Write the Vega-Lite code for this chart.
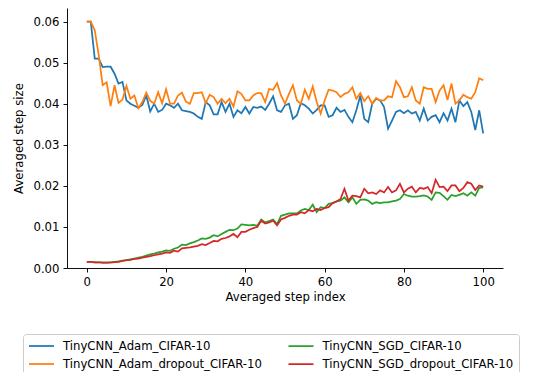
{
  "$schema": "https://vega.github.io/schema/vega-lite/v6.json",
  "width": 436,
  "height": 260,
  "autosize": {"type": "none"},
  "padding": {"left": 67, "top": 8, "right": 34, "bottom": 104},
  "background": "white",
  "config": {
    "view": {"stroke": null},
    "font": "DejaVu Sans",
    "axis": {
      "labelFont": "DejaVu Sans", "titleFont": "DejaVu Sans",
      "domainColor": "black", "tickColor": "black", "labelColor": "black", "titleColor": "black",
      "labelFontSize": 11.7, "titleFontSize": 11.7, "titleFontWeight": "normal",
      "tickSize": 4, "labelPadding": 4, "grid": false, "domainWidth": 0.94, "tickWidth": 0.94
    },
    "legend": {"labelFont": "DejaVu Sans"}
  },
  "data": {
    "values": [
      {"x":0,"TinyCNN_Adam_CIFAR-10":0.0600,"TinyCNN_Adam_dropout_CIFAR-10":0.0600,"TinyCNN_SGD_CIFAR-10":0.0015,"TinyCNN_SGD_dropout_CIFAR-10":0.0015},
      {"x":1,"TinyCNN_Adam_CIFAR-10":0.0600,"TinyCNN_Adam_dropout_CIFAR-10":0.0600,"TinyCNN_SGD_CIFAR-10":0.0015,"TinyCNN_SGD_dropout_CIFAR-10":0.0015},
      {"x":2,"TinyCNN_Adam_CIFAR-10":0.0510,"TinyCNN_Adam_dropout_CIFAR-10":0.0579,"TinyCNN_SGD_CIFAR-10":0.0014,"TinyCNN_SGD_dropout_CIFAR-10":0.0014},
      {"x":3,"TinyCNN_Adam_CIFAR-10":0.0510,"TinyCNN_Adam_dropout_CIFAR-10":0.0518,"TinyCNN_SGD_CIFAR-10":0.0014,"TinyCNN_SGD_dropout_CIFAR-10":0.0014},
      {"x":4,"TinyCNN_Adam_CIFAR-10":0.0489,"TinyCNN_Adam_dropout_CIFAR-10":0.0445,"TinyCNN_SGD_CIFAR-10":0.0013,"TinyCNN_SGD_dropout_CIFAR-10":0.0013},
      {"x":5,"TinyCNN_Adam_CIFAR-10":0.0490,"TinyCNN_Adam_dropout_CIFAR-10":0.0452,"TinyCNN_SGD_CIFAR-10":0.0013,"TinyCNN_SGD_dropout_CIFAR-10":0.0013},
      {"x":6,"TinyCNN_Adam_CIFAR-10":0.0490,"TinyCNN_Adam_dropout_CIFAR-10":0.0394,"TinyCNN_SGD_CIFAR-10":0.0014,"TinyCNN_SGD_dropout_CIFAR-10":0.0013},
      {"x":7,"TinyCNN_Adam_CIFAR-10":0.0473,"TinyCNN_Adam_dropout_CIFAR-10":0.0445,"TinyCNN_SGD_CIFAR-10":0.0015,"TinyCNN_SGD_dropout_CIFAR-10":0.0014},
      {"x":8,"TinyCNN_Adam_CIFAR-10":0.0449,"TinyCNN_Adam_dropout_CIFAR-10":0.0402,"TinyCNN_SGD_CIFAR-10":0.0016,"TinyCNN_SGD_dropout_CIFAR-10":0.0015},
      {"x":9,"TinyCNN_Adam_CIFAR-10":0.0453,"TinyCNN_Adam_dropout_CIFAR-10":0.0410,"TinyCNN_SGD_CIFAR-10":0.0018,"TinyCNN_SGD_dropout_CIFAR-10":0.0017},
      {"x":10,"TinyCNN_Adam_CIFAR-10":0.0408,"TinyCNN_Adam_dropout_CIFAR-10":0.0443,"TinyCNN_SGD_CIFAR-10":0.0019,"TinyCNN_SGD_dropout_CIFAR-10":0.0019},
      {"x":11,"TinyCNN_Adam_CIFAR-10":0.0400,"TinyCNN_Adam_dropout_CIFAR-10":0.0412,"TinyCNN_SGD_CIFAR-10":0.0021,"TinyCNN_SGD_dropout_CIFAR-10":0.0020},
      {"x":12,"TinyCNN_Adam_CIFAR-10":0.0395,"TinyCNN_Adam_dropout_CIFAR-10":0.0420,"TinyCNN_SGD_CIFAR-10":0.0023,"TinyCNN_SGD_dropout_CIFAR-10":0.0022},
      {"x":13,"TinyCNN_Adam_CIFAR-10":0.0390,"TinyCNN_Adam_dropout_CIFAR-10":0.0389,"TinyCNN_SGD_CIFAR-10":0.0025,"TinyCNN_SGD_dropout_CIFAR-10":0.0023},
      {"x":14,"TinyCNN_Adam_CIFAR-10":0.0397,"TinyCNN_Adam_dropout_CIFAR-10":0.0404,"TinyCNN_SGD_CIFAR-10":0.0027,"TinyCNN_SGD_dropout_CIFAR-10":0.0025},
      {"x":15,"TinyCNN_Adam_CIFAR-10":0.0420,"TinyCNN_Adam_dropout_CIFAR-10":0.0427,"TinyCNN_SGD_CIFAR-10":0.0030,"TinyCNN_SGD_dropout_CIFAR-10":0.0027},
      {"x":16,"TinyCNN_Adam_CIFAR-10":0.0381,"TinyCNN_Adam_dropout_CIFAR-10":0.0407,"TinyCNN_SGD_CIFAR-10":0.0033,"TinyCNN_SGD_dropout_CIFAR-10":0.0029},
      {"x":17,"TinyCNN_Adam_CIFAR-10":0.0400,"TinyCNN_Adam_dropout_CIFAR-10":0.0400,"TinyCNN_SGD_CIFAR-10":0.0035,"TinyCNN_SGD_dropout_CIFAR-10":0.0031},
      {"x":18,"TinyCNN_Adam_CIFAR-10":0.0380,"TinyCNN_Adam_dropout_CIFAR-10":0.0428,"TinyCNN_SGD_CIFAR-10":0.0038,"TinyCNN_SGD_dropout_CIFAR-10":0.0033},
      {"x":19,"TinyCNN_Adam_CIFAR-10":0.0385,"TinyCNN_Adam_dropout_CIFAR-10":0.0401,"TinyCNN_SGD_CIFAR-10":0.0040,"TinyCNN_SGD_dropout_CIFAR-10":0.0035},
      {"x":20,"TinyCNN_Adam_CIFAR-10":0.0400,"TinyCNN_Adam_dropout_CIFAR-10":0.0435,"TinyCNN_SGD_CIFAR-10":0.0043,"TinyCNN_SGD_dropout_CIFAR-10":0.0038},
      {"x":21,"TinyCNN_Adam_CIFAR-10":0.0396,"TinyCNN_Adam_dropout_CIFAR-10":0.0400,"TinyCNN_SGD_CIFAR-10":0.0042,"TinyCNN_SGD_dropout_CIFAR-10":0.0037},
      {"x":22,"TinyCNN_Adam_CIFAR-10":0.0390,"TinyCNN_Adam_dropout_CIFAR-10":0.0400,"TinyCNN_SGD_CIFAR-10":0.0047,"TinyCNN_SGD_dropout_CIFAR-10":0.0042},
      {"x":23,"TinyCNN_Adam_CIFAR-10":0.0400,"TinyCNN_Adam_dropout_CIFAR-10":0.0420,"TinyCNN_SGD_CIFAR-10":0.0050,"TinyCNN_SGD_dropout_CIFAR-10":0.0040},
      {"x":24,"TinyCNN_Adam_CIFAR-10":0.0384,"TinyCNN_Adam_dropout_CIFAR-10":0.0427,"TinyCNN_SGD_CIFAR-10":0.0057,"TinyCNN_SGD_dropout_CIFAR-10":0.0048},
      {"x":25,"TinyCNN_Adam_CIFAR-10":0.0382,"TinyCNN_Adam_dropout_CIFAR-10":0.0405,"TinyCNN_SGD_CIFAR-10":0.0056,"TinyCNN_SGD_dropout_CIFAR-10":0.0049},
      {"x":26,"TinyCNN_Adam_CIFAR-10":0.0380,"TinyCNN_Adam_dropout_CIFAR-10":0.0400,"TinyCNN_SGD_CIFAR-10":0.0060,"TinyCNN_SGD_dropout_CIFAR-10":0.0050},
      {"x":27,"TinyCNN_Adam_CIFAR-10":0.0376,"TinyCNN_Adam_dropout_CIFAR-10":0.0426,"TinyCNN_SGD_CIFAR-10":0.0063,"TinyCNN_SGD_dropout_CIFAR-10":0.0052},
      {"x":28,"TinyCNN_Adam_CIFAR-10":0.0368,"TinyCNN_Adam_dropout_CIFAR-10":0.0426,"TinyCNN_SGD_CIFAR-10":0.0067,"TinyCNN_SGD_dropout_CIFAR-10":0.0054},
      {"x":29,"TinyCNN_Adam_CIFAR-10":0.0363,"TinyCNN_Adam_dropout_CIFAR-10":0.0428,"TinyCNN_SGD_CIFAR-10":0.0072,"TinyCNN_SGD_dropout_CIFAR-10":0.0058},
      {"x":30,"TinyCNN_Adam_CIFAR-10":0.0404,"TinyCNN_Adam_dropout_CIFAR-10":0.0401,"TinyCNN_SGD_CIFAR-10":0.0071,"TinyCNN_SGD_dropout_CIFAR-10":0.0056},
      {"x":31,"TinyCNN_Adam_CIFAR-10":0.0396,"TinyCNN_Adam_dropout_CIFAR-10":0.0422,"TinyCNN_SGD_CIFAR-10":0.0074,"TinyCNN_SGD_dropout_CIFAR-10":0.0061},
      {"x":32,"TinyCNN_Adam_CIFAR-10":0.0374,"TinyCNN_Adam_dropout_CIFAR-10":0.0416,"TinyCNN_SGD_CIFAR-10":0.0080,"TinyCNN_SGD_dropout_CIFAR-10":0.0066},
      {"x":33,"TinyCNN_Adam_CIFAR-10":0.0374,"TinyCNN_Adam_dropout_CIFAR-10":0.0400,"TinyCNN_SGD_CIFAR-10":0.0077,"TinyCNN_SGD_dropout_CIFAR-10":0.0065},
      {"x":34,"TinyCNN_Adam_CIFAR-10":0.0404,"TinyCNN_Adam_dropout_CIFAR-10":0.0412,"TinyCNN_SGD_CIFAR-10":0.0083,"TinyCNN_SGD_dropout_CIFAR-10":0.0071},
      {"x":35,"TinyCNN_Adam_CIFAR-10":0.0380,"TinyCNN_Adam_dropout_CIFAR-10":0.0401,"TinyCNN_SGD_CIFAR-10":0.0088,"TinyCNN_SGD_dropout_CIFAR-10":0.0073},
      {"x":36,"TinyCNN_Adam_CIFAR-10":0.0400,"TinyCNN_Adam_dropout_CIFAR-10":0.0412,"TinyCNN_SGD_CIFAR-10":0.0093,"TinyCNN_SGD_dropout_CIFAR-10":0.0077},
      {"x":37,"TinyCNN_Adam_CIFAR-10":0.0368,"TinyCNN_Adam_dropout_CIFAR-10":0.0393,"TinyCNN_SGD_CIFAR-10":0.0092,"TinyCNN_SGD_dropout_CIFAR-10":0.0083},
      {"x":38,"TinyCNN_Adam_CIFAR-10":0.0384,"TinyCNN_Adam_dropout_CIFAR-10":0.0430,"TinyCNN_SGD_CIFAR-10":0.0096,"TinyCNN_SGD_dropout_CIFAR-10":0.0075},
      {"x":39,"TinyCNN_Adam_CIFAR-10":0.0377,"TinyCNN_Adam_dropout_CIFAR-10":0.0424,"TinyCNN_SGD_CIFAR-10":0.0106,"TinyCNN_SGD_dropout_CIFAR-10":0.0088},
      {"x":40,"TinyCNN_Adam_CIFAR-10":0.0392,"TinyCNN_Adam_dropout_CIFAR-10":0.0408,"TinyCNN_SGD_CIFAR-10":0.0105,"TinyCNN_SGD_dropout_CIFAR-10":0.0088},
      {"x":41,"TinyCNN_Adam_CIFAR-10":0.0376,"TinyCNN_Adam_dropout_CIFAR-10":0.0408,"TinyCNN_SGD_CIFAR-10":0.0104,"TinyCNN_SGD_dropout_CIFAR-10":0.0093},
      {"x":42,"TinyCNN_Adam_CIFAR-10":0.0392,"TinyCNN_Adam_dropout_CIFAR-10":0.0420,"TinyCNN_SGD_CIFAR-10":0.0105,"TinyCNN_SGD_dropout_CIFAR-10":0.0097},
      {"x":43,"TinyCNN_Adam_CIFAR-10":0.0390,"TinyCNN_Adam_dropout_CIFAR-10":0.0426,"TinyCNN_SGD_CIFAR-10":0.0103,"TinyCNN_SGD_dropout_CIFAR-10":0.0100},
      {"x":44,"TinyCNN_Adam_CIFAR-10":0.0393,"TinyCNN_Adam_dropout_CIFAR-10":0.0426,"TinyCNN_SGD_CIFAR-10":0.0118,"TinyCNN_SGD_dropout_CIFAR-10":0.0115},
      {"x":45,"TinyCNN_Adam_CIFAR-10":0.0385,"TinyCNN_Adam_dropout_CIFAR-10":0.0404,"TinyCNN_SGD_CIFAR-10":0.0111,"TinyCNN_SGD_dropout_CIFAR-10":0.0108},
      {"x":46,"TinyCNN_Adam_CIFAR-10":0.0400,"TinyCNN_Adam_dropout_CIFAR-10":0.0436,"TinyCNN_SGD_CIFAR-10":0.0114,"TinyCNN_SGD_dropout_CIFAR-10":0.0111},
      {"x":47,"TinyCNN_Adam_CIFAR-10":0.0418,"TinyCNN_Adam_dropout_CIFAR-10":0.0434,"TinyCNN_SGD_CIFAR-10":0.0118,"TinyCNN_SGD_dropout_CIFAR-10":0.0115},
      {"x":48,"TinyCNN_Adam_CIFAR-10":0.0384,"TinyCNN_Adam_dropout_CIFAR-10":0.0450,"TinyCNN_SGD_CIFAR-10":0.0107,"TinyCNN_SGD_dropout_CIFAR-10":0.0104},
      {"x":49,"TinyCNN_Adam_CIFAR-10":0.0380,"TinyCNN_Adam_dropout_CIFAR-10":0.0420,"TinyCNN_SGD_CIFAR-10":0.0127,"TinyCNN_SGD_dropout_CIFAR-10":0.0118},
      {"x":50,"TinyCNN_Adam_CIFAR-10":0.0396,"TinyCNN_Adam_dropout_CIFAR-10":0.0400,"TinyCNN_SGD_CIFAR-10":0.0130,"TinyCNN_SGD_dropout_CIFAR-10":0.0122},
      {"x":51,"TinyCNN_Adam_CIFAR-10":0.0400,"TinyCNN_Adam_dropout_CIFAR-10":0.0424,"TinyCNN_SGD_CIFAR-10":0.0133,"TinyCNN_SGD_dropout_CIFAR-10":0.0127},
      {"x":52,"TinyCNN_Adam_CIFAR-10":0.0363,"TinyCNN_Adam_dropout_CIFAR-10":0.0445,"TinyCNN_SGD_CIFAR-10":0.0133,"TinyCNN_SGD_dropout_CIFAR-10":0.0130},
      {"x":53,"TinyCNN_Adam_CIFAR-10":0.0372,"TinyCNN_Adam_dropout_CIFAR-10":0.0408,"TinyCNN_SGD_CIFAR-10":0.0133,"TinyCNN_SGD_dropout_CIFAR-10":0.0130},
      {"x":54,"TinyCNN_Adam_CIFAR-10":0.0401,"TinyCNN_Adam_dropout_CIFAR-10":0.0400,"TinyCNN_SGD_CIFAR-10":0.0140,"TinyCNN_SGD_dropout_CIFAR-10":0.0136},
      {"x":55,"TinyCNN_Adam_CIFAR-10":0.0396,"TinyCNN_Adam_dropout_CIFAR-10":0.0434,"TinyCNN_SGD_CIFAR-10":0.0144,"TinyCNN_SGD_dropout_CIFAR-10":0.0133},
      {"x":56,"TinyCNN_Adam_CIFAR-10":0.0388,"TinyCNN_Adam_dropout_CIFAR-10":0.0412,"TinyCNN_SGD_CIFAR-10":0.0141,"TinyCNN_SGD_dropout_CIFAR-10":0.0141},
      {"x":57,"TinyCNN_Adam_CIFAR-10":0.0376,"TinyCNN_Adam_dropout_CIFAR-10":0.0442,"TinyCNN_SGD_CIFAR-10":0.0154,"TinyCNN_SGD_dropout_CIFAR-10":0.0138},
      {"x":58,"TinyCNN_Adam_CIFAR-10":0.0385,"TinyCNN_Adam_dropout_CIFAR-10":0.0404,"TinyCNN_SGD_CIFAR-10":0.0136,"TinyCNN_SGD_dropout_CIFAR-10":0.0144},
      {"x":59,"TinyCNN_Adam_CIFAR-10":0.0396,"TinyCNN_Adam_dropout_CIFAR-10":0.0376,"TinyCNN_SGD_CIFAR-10":0.0148,"TinyCNN_SGD_dropout_CIFAR-10":0.0141},
      {"x":60,"TinyCNN_Adam_CIFAR-10":0.0396,"TinyCNN_Adam_dropout_CIFAR-10":0.0408,"TinyCNN_SGD_CIFAR-10":0.0146,"TinyCNN_SGD_dropout_CIFAR-10":0.0146},
      {"x":61,"TinyCNN_Adam_CIFAR-10":0.0368,"TinyCNN_Adam_dropout_CIFAR-10":0.0434,"TinyCNN_SGD_CIFAR-10":0.0156,"TinyCNN_SGD_dropout_CIFAR-10":0.0148},
      {"x":62,"TinyCNN_Adam_CIFAR-10":0.0372,"TinyCNN_Adam_dropout_CIFAR-10":0.0432,"TinyCNN_SGD_CIFAR-10":0.0158,"TinyCNN_SGD_dropout_CIFAR-10":0.0158},
      {"x":63,"TinyCNN_Adam_CIFAR-10":0.0390,"TinyCNN_Adam_dropout_CIFAR-10":0.0428,"TinyCNN_SGD_CIFAR-10":0.0162,"TinyCNN_SGD_dropout_CIFAR-10":0.0162},
      {"x":64,"TinyCNN_Adam_CIFAR-10":0.0380,"TinyCNN_Adam_dropout_CIFAR-10":0.0416,"TinyCNN_SGD_CIFAR-10":0.0164,"TinyCNN_SGD_dropout_CIFAR-10":0.0168},
      {"x":65,"TinyCNN_Adam_CIFAR-10":0.0385,"TinyCNN_Adam_dropout_CIFAR-10":0.0424,"TinyCNN_SGD_CIFAR-10":0.0172,"TinyCNN_SGD_dropout_CIFAR-10":0.0193},
      {"x":66,"TinyCNN_Adam_CIFAR-10":0.0368,"TinyCNN_Adam_dropout_CIFAR-10":0.0428,"TinyCNN_SGD_CIFAR-10":0.0160,"TinyCNN_SGD_dropout_CIFAR-10":0.0164},
      {"x":67,"TinyCNN_Adam_CIFAR-10":0.0355,"TinyCNN_Adam_dropout_CIFAR-10":0.0440,"TinyCNN_SGD_CIFAR-10":0.0172,"TinyCNN_SGD_dropout_CIFAR-10":0.0176},
      {"x":68,"TinyCNN_Adam_CIFAR-10":0.0384,"TinyCNN_Adam_dropout_CIFAR-10":0.0412,"TinyCNN_SGD_CIFAR-10":0.0156,"TinyCNN_SGD_dropout_CIFAR-10":0.0175},
      {"x":69,"TinyCNN_Adam_CIFAR-10":0.0420,"TinyCNN_Adam_dropout_CIFAR-10":0.0426,"TinyCNN_SGD_CIFAR-10":0.0166,"TinyCNN_SGD_dropout_CIFAR-10":0.0172},
      {"x":70,"TinyCNN_Adam_CIFAR-10":0.0363,"TinyCNN_Adam_dropout_CIFAR-10":0.0406,"TinyCNN_SGD_CIFAR-10":0.0167,"TinyCNN_SGD_dropout_CIFAR-10":0.0193},
      {"x":71,"TinyCNN_Adam_CIFAR-10":0.0355,"TinyCNN_Adam_dropout_CIFAR-10":0.0418,"TinyCNN_SGD_CIFAR-10":0.0164,"TinyCNN_SGD_dropout_CIFAR-10":0.0182},
      {"x":72,"TinyCNN_Adam_CIFAR-10":0.0400,"TinyCNN_Adam_dropout_CIFAR-10":0.0400,"TinyCNN_SGD_CIFAR-10":0.0156,"TinyCNN_SGD_dropout_CIFAR-10":0.0184},
      {"x":73,"TinyCNN_Adam_CIFAR-10":0.0412,"TinyCNN_Adam_dropout_CIFAR-10":0.0414,"TinyCNN_SGD_CIFAR-10":0.0160,"TinyCNN_SGD_dropout_CIFAR-10":0.0180},
      {"x":74,"TinyCNN_Adam_CIFAR-10":0.0408,"TinyCNN_Adam_dropout_CIFAR-10":0.0408,"TinyCNN_SGD_CIFAR-10":0.0158,"TinyCNN_SGD_dropout_CIFAR-10":0.0189},
      {"x":75,"TinyCNN_Adam_CIFAR-10":0.0392,"TinyCNN_Adam_dropout_CIFAR-10":0.0408,"TinyCNN_SGD_CIFAR-10":0.0160,"TinyCNN_SGD_dropout_CIFAR-10":0.0184},
      {"x":76,"TinyCNN_Adam_CIFAR-10":0.0339,"TinyCNN_Adam_dropout_CIFAR-10":0.0418,"TinyCNN_SGD_CIFAR-10":0.0160,"TinyCNN_SGD_dropout_CIFAR-10":0.0197},
      {"x":77,"TinyCNN_Adam_CIFAR-10":0.0359,"TinyCNN_Adam_dropout_CIFAR-10":0.0416,"TinyCNN_SGD_CIFAR-10":0.0162,"TinyCNN_SGD_dropout_CIFAR-10":0.0184},
      {"x":78,"TinyCNN_Adam_CIFAR-10":0.0380,"TinyCNN_Adam_dropout_CIFAR-10":0.0455,"TinyCNN_SGD_CIFAR-10":0.0164,"TinyCNN_SGD_dropout_CIFAR-10":0.0189},
      {"x":79,"TinyCNN_Adam_CIFAR-10":0.0384,"TinyCNN_Adam_dropout_CIFAR-10":0.0440,"TinyCNN_SGD_CIFAR-10":0.0168,"TinyCNN_SGD_dropout_CIFAR-10":0.0205},
      {"x":80,"TinyCNN_Adam_CIFAR-10":0.0377,"TinyCNN_Adam_dropout_CIFAR-10":0.0416,"TinyCNN_SGD_CIFAR-10":0.0180,"TinyCNN_SGD_dropout_CIFAR-10":0.0184},
      {"x":81,"TinyCNN_Adam_CIFAR-10":0.0384,"TinyCNN_Adam_dropout_CIFAR-10":0.0418,"TinyCNN_SGD_CIFAR-10":0.0176,"TinyCNN_SGD_dropout_CIFAR-10":0.0193},
      {"x":82,"TinyCNN_Adam_CIFAR-10":0.0376,"TinyCNN_Adam_dropout_CIFAR-10":0.0440,"TinyCNN_SGD_CIFAR-10":0.0174,"TinyCNN_SGD_dropout_CIFAR-10":0.0198},
      {"x":83,"TinyCNN_Adam_CIFAR-10":0.0380,"TinyCNN_Adam_dropout_CIFAR-10":0.0408,"TinyCNN_SGD_CIFAR-10":0.0174,"TinyCNN_SGD_dropout_CIFAR-10":0.0184},
      {"x":84,"TinyCNN_Adam_CIFAR-10":0.0359,"TinyCNN_Adam_dropout_CIFAR-10":0.0400,"TinyCNN_SGD_CIFAR-10":0.0175,"TinyCNN_SGD_dropout_CIFAR-10":0.0195},
      {"x":85,"TinyCNN_Adam_CIFAR-10":0.0388,"TinyCNN_Adam_dropout_CIFAR-10":0.0440,"TinyCNN_SGD_CIFAR-10":0.0177,"TinyCNN_SGD_dropout_CIFAR-10":0.0193},
      {"x":86,"TinyCNN_Adam_CIFAR-10":0.0359,"TinyCNN_Adam_dropout_CIFAR-10":0.0436,"TinyCNN_SGD_CIFAR-10":0.0174,"TinyCNN_SGD_dropout_CIFAR-10":0.0197},
      {"x":87,"TinyCNN_Adam_CIFAR-10":0.0368,"TinyCNN_Adam_dropout_CIFAR-10":0.0436,"TinyCNN_SGD_CIFAR-10":0.0166,"TinyCNN_SGD_dropout_CIFAR-10":0.0182},
      {"x":88,"TinyCNN_Adam_CIFAR-10":0.0372,"TinyCNN_Adam_dropout_CIFAR-10":0.0404,"TinyCNN_SGD_CIFAR-10":0.0184,"TinyCNN_SGD_dropout_CIFAR-10":0.0215},
      {"x":89,"TinyCNN_Adam_CIFAR-10":0.0355,"TinyCNN_Adam_dropout_CIFAR-10":0.0432,"TinyCNN_SGD_CIFAR-10":0.0183,"TinyCNN_SGD_dropout_CIFAR-10":0.0197},
      {"x":90,"TinyCNN_Adam_CIFAR-10":0.0377,"TinyCNN_Adam_dropout_CIFAR-10":0.0445,"TinyCNN_SGD_CIFAR-10":0.0175,"TinyCNN_SGD_dropout_CIFAR-10":0.0198},
      {"x":91,"TinyCNN_Adam_CIFAR-10":0.0359,"TinyCNN_Adam_dropout_CIFAR-10":0.0409,"TinyCNN_SGD_CIFAR-10":0.0166,"TinyCNN_SGD_dropout_CIFAR-10":0.0187},
      {"x":92,"TinyCNN_Adam_CIFAR-10":0.0388,"TinyCNN_Adam_dropout_CIFAR-10":0.0449,"TinyCNN_SGD_CIFAR-10":0.0178,"TinyCNN_SGD_dropout_CIFAR-10":0.0201},
      {"x":93,"TinyCNN_Adam_CIFAR-10":0.0355,"TinyCNN_Adam_dropout_CIFAR-10":0.0400,"TinyCNN_SGD_CIFAR-10":0.0175,"TinyCNN_SGD_dropout_CIFAR-10":0.0201},
      {"x":94,"TinyCNN_Adam_CIFAR-10":0.0408,"TinyCNN_Adam_dropout_CIFAR-10":0.0408,"TinyCNN_SGD_CIFAR-10":0.0178,"TinyCNN_SGD_dropout_CIFAR-10":0.0187},
      {"x":95,"TinyCNN_Adam_CIFAR-10":0.0394,"TinyCNN_Adam_dropout_CIFAR-10":0.0422,"TinyCNN_SGD_CIFAR-10":0.0182,"TinyCNN_SGD_dropout_CIFAR-10":0.0195},
      {"x":96,"TinyCNN_Adam_CIFAR-10":0.0404,"TinyCNN_Adam_dropout_CIFAR-10":0.0416,"TinyCNN_SGD_CIFAR-10":0.0176,"TinyCNN_SGD_dropout_CIFAR-10":0.0209},
      {"x":97,"TinyCNN_Adam_CIFAR-10":0.0380,"TinyCNN_Adam_dropout_CIFAR-10":0.0412,"TinyCNN_SGD_CIFAR-10":0.0184,"TinyCNN_SGD_dropout_CIFAR-10":0.0205},
      {"x":98,"TinyCNN_Adam_CIFAR-10":0.0336,"TinyCNN_Adam_dropout_CIFAR-10":0.0428,"TinyCNN_SGD_CIFAR-10":0.0176,"TinyCNN_SGD_dropout_CIFAR-10":0.0190},
      {"x":99,"TinyCNN_Adam_CIFAR-10":0.0384,"TinyCNN_Adam_dropout_CIFAR-10":0.0462,"TinyCNN_SGD_CIFAR-10":0.0195,"TinyCNN_SGD_dropout_CIFAR-10":0.0201},
      {"x":100,"TinyCNN_Adam_CIFAR-10":0.0328,"TinyCNN_Adam_dropout_CIFAR-10":0.0457,"TinyCNN_SGD_CIFAR-10":0.0196,"TinyCNN_SGD_dropout_CIFAR-10":0.0198}
    ]
  },
  "transform": [
    {"fold": ["TinyCNN_Adam_CIFAR-10", "TinyCNN_Adam_dropout_CIFAR-10", "TinyCNN_SGD_CIFAR-10", "TinyCNN_SGD_dropout_CIFAR-10"], "as": ["series", "value"]}
  ],
  "mark": {"type": "line", "strokeWidth": 1.75},
  "encoding": {
    "x": {
      "field": "x", "type": "quantitative",
      "scale": {"domain": [-5, 105], "nice": false, "zero": false},
      "axis": {"values": [0, 20, 40, 60, 80, 100], "title": "Averaged step index", "titlePadding": 4}
    },
    "y": {
      "field": "value", "type": "quantitative",
      "scale": {"domain": [0, 0.0633], "nice": false},
      "axis": {"values": [0, 0.01, 0.02, 0.03, 0.04, 0.05, 0.06], "format": ".2f", "title": "Averaged step size", "titlePadding": 8}
    },
    "color": {
      "field": "series", "type": "nominal",
      "scale": {
        "domain": ["TinyCNN_Adam_CIFAR-10", "TinyCNN_Adam_dropout_CIFAR-10", "TinyCNN_SGD_CIFAR-10", "TinyCNN_SGD_dropout_CIFAR-10"],
        "range": ["#1f77b4", "#ff7f0e", "#2ca02c", "#d62728"]
      },
      "legend": {
        "title": null, "orient": "none", "legendX": -44, "legendY": 326,
        "columns": 2, "symbolType": "stroke", "symbolSize": 625, "symbolStrokeWidth": 1.75,
        "clipHeight": 14, "rowPadding": 4, "columnPadding": 25.5, "labelOffset": 8,
        "labelFont": "DejaVu Sans", "labelFontSize": 11.7, "labelColor": "black", "labelLimit": 400,
        "strokeColor": "#cccccc", "fillColor": "white", "padding": 5, "cornerRadius": 3
      }
    }
  }
}
